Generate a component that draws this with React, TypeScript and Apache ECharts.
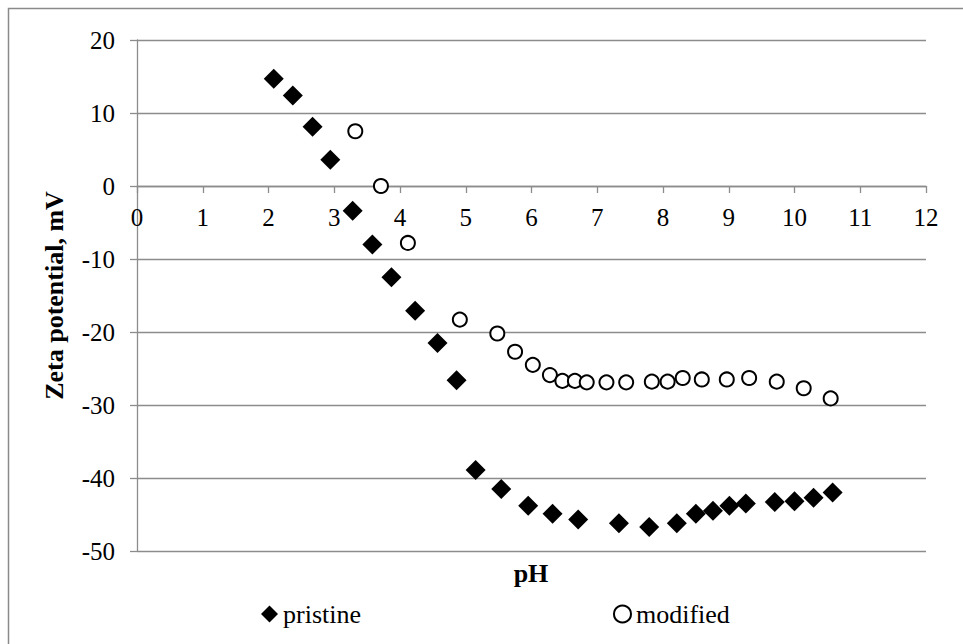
import React, { useEffect, useRef } from "react";
import * as echarts from "echarts";

const pristineX = [2.08, 2.37, 2.67, 2.94, 3.28, 3.58, 3.87, 4.23, 4.57, 4.86, 5.15, 5.54, 5.95, 6.32, 6.71, 7.33, 7.79, 8.21, 8.5, 8.76, 9.01, 9.26, 9.7, 10.0, 10.29, 10.58];
const pristineY = [14.7, 12.4, 8.1, 3.6, -3.4, -8.0, -12.5, -17.1, -21.5, -26.6, -38.9, -41.5, -43.8, -44.9, -45.7, -46.2, -46.7, -46.2, -44.9, -44.5, -43.8, -43.5, -43.3, -43.2, -42.7, -42.0];

const modifiedX = [3.32, 3.71, 4.12, 4.91, 5.48, 5.75, 6.02, 6.28, 6.47, 6.66, 6.84, 7.14, 7.44, 7.83, 8.07, 8.3, 8.59, 8.97, 9.31, 9.73, 10.14, 10.55];
const modifiedY = [7.5, 0.0, -7.8, -18.3, -20.2, -22.7, -24.5, -25.9, -26.7, -26.7, -26.9, -26.9, -26.9, -26.8, -26.8, -26.3, -26.5, -26.5, -26.3, -26.8, -27.7, -29.1];

const seriesNames = ["pristine", "modified"];
const xTitle = "pH";
const yTitle = "Zeta potential, mV";

const Y_MIN = -50;
const Y_MAX = 20;

const FONT = "'Liberation Serif', 'Times New Roman', serif";
const GRAY = "#8c8c8c";

const W = 963;
const H = 644;
const GRID = { left: 137, right: 37, top: 40, bottom: 93 };

export default function App() {
  const ref = useRef<HTMLDivElement>(null);

  useEffect(() => {
    if (!ref.current) return;
    const chart = echarts.init(ref.current, undefined, { renderer: "svg" });
    const pristine = pristineX.map((x, i) => [x, pristineY[i]]);
    const modified = modifiedX.map((x, i) => [x, modifiedY[i]]);
    const plotH = H - GRID.top - GRID.bottom;
    const zeroOffset = -plotH * (0 - Y_MIN) / (Y_MAX - Y_MIN);
    chart.setOption({
      animation: false,
      backgroundColor: "#ffffff",
      textStyle: { fontFamily: FONT, color: "#000" },
      grid: { ...GRID, containLabel: false },
      xAxis: {
        type: "value",
        min: 0,
        max: 12,
        interval: 1,
        position: "bottom",
        offset: zeroOffset,
        axisLine: { show: true, onZero: false, lineStyle: { color: GRAY, width: 1.3 } },
        axisTick: { show: true, inside: false, length: 7, lineStyle: { color: GRAY, width: 1.3 } },
        axisLabel: { fontFamily: FONT, fontSize: 25, color: "#000", margin: 19 },
        splitLine: { show: false },
      },
      yAxis: {
        type: "value",
        min: Y_MIN,
        max: Y_MAX,
        interval: 10,
        name: yTitle,
        nameLocation: "middle",
        nameGap: 70,
        nameRotate: 90,
        nameTextStyle: { fontFamily: FONT, fontSize: 26, fontWeight: "bold", color: "#000" },
        axisLine: { show: true, onZero: false, lineStyle: { color: GRAY, width: 1.3 } },
        axisTick: { show: true, inside: false, length: 7, lineStyle: { color: GRAY, width: 1.3 } },
        axisLabel: { fontFamily: FONT, fontSize: 25, color: "#000", margin: 22 },
        splitLine: { show: true, lineStyle: { color: GRAY, width: 1.3 } },
      },
      legend: {
        left: 256,
        top: 596,
        itemGap: 252,
        itemWidth: 17,
        itemHeight: 17,
        textStyle: { fontFamily: FONT, fontSize: 26, color: "#000" },
        data: seriesNames,
      },
      graphic: [
        {
          type: "rect",
          shape: { x: 8.5, y: 8.5, width: 1000, height: 1000 },
          style: { fill: "none", stroke: "#8a8a8a", lineWidth: 1.5 },
          silent: true,
        },
        {
          type: "text",
          x: 531,
          y: 573,
          style: {
            text: xTitle,
            fontFamily: FONT,
            fontSize: 26,
            fontWeight: "bold",
            fill: "#000",
            align: "center",
            verticalAlign: "middle",
          },
        },
      ],
      series: [
        {
          name: seriesNames[0],
          type: "scatter",
          symbol: "diamond",
          symbolSize: 20,
          itemStyle: { color: "#000", opacity: 1 },
          data: pristine,
        },
        {
          name: seriesNames[1],
          type: "scatter",
          symbol: "circle",
          symbolSize: 14,
          itemStyle: { color: "#fff", borderColor: "#000", borderWidth: 2, opacity: 1 },
          data: modified,
        },
      ],
    });
    return () => chart.dispose();
  }, []);

  return (
    <div
      ref={ref}
      style={{ position: "absolute", left: 0, top: 0, width: W, height: H }}
    />
  );
}
